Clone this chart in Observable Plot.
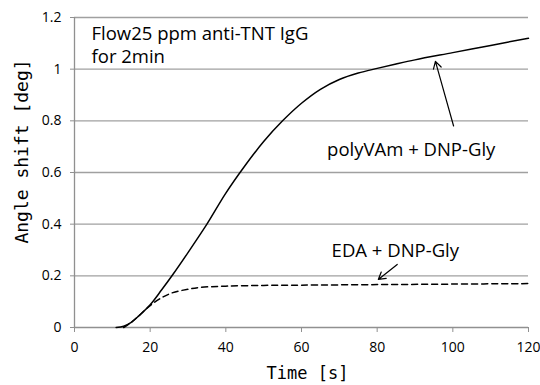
<!DOCTYPE html>
<html>
<head>
<meta charset="utf-8">
<script src="https://cdn.jsdelivr.net/npm/d3@7"></script>
<script src="https://cdn.jsdelivr.net/npm/@observablehq/plot@0.6"></script>
<style>
  html, body { margin: 0; padding: 0; background: #fff; }
  #chart svg { display: block; }
</style>
</head>
<body>
<div id="chart"></div>
<script>
// Data
const timeSolid = [11, 13, 15, 17, 20, 23, 26, 30, 35, 40, 45, 50, 55, 60, 65, 70, 75, 80, 85, 90, 100, 110, 120];
const polyVAm   = [0, 0.005, 0.02, 0.045, 0.088, 0.145, 0.205, 0.29, 0.4, 0.52, 0.625, 0.72, 0.8, 0.868, 0.922, 0.96, 0.985, 1.003, 1.02, 1.036, 1.064, 1.092, 1.12];
const timeDashed = [13, 15, 17, 20, 23, 26, 30, 33, 40, 50, 60, 80, 100, 120];
const eda        = [0, 0.02, 0.045, 0.085, 0.115, 0.135, 0.148, 0.155, 0.16, 0.163, 0.164, 0.166, 0.168, 0.17];
const xTicks = [0, 20, 40, 60, 80, 100, 120];
const yTicks = [0, 0.2, 0.4, 0.6, 0.8, 1.0, 1.2];

// Annotations (data units)
const noteLines = ["Flow25 ppm anti-TNT IgG", "for 2min"];
const noteX = [4.5, 4.5];
const noteY = [1.137, 1.047];
const labelText = ["polyVAm + DNP-Gly", "EDA + DNP-Gly"];
const labelX = [89, 84.8];
const labelY = [0.685, 0.295];
const arrowX1 = [100.2, 85.3];
const arrowY1 = [0.78, 0.244];
const arrowX2 = [95.4, 80.3];
const arrowY2 = [1.03, 0.186];

const solid = timeSolid.map((t, i) => ({t, v: polyVAm[i]}));
const dashed = timeDashed.map((t, i) => ({t, v: eda[i]}));
const notes = noteLines.map((s, i) => ({s, x: noteX[i], y: noteY[i]}));
const labels = labelText.map((s, i) => ({s, x: labelX[i], y: labelY[i]}));
const arrows = arrowX1.map((x1, i) => ({x1, y1: arrowY1[i], x2: arrowX2[i], y2: arrowY2[i]}));

const chart = Plot.plot({
  width: 540,
  height: 385,
  marginLeft: 74,
  marginRight: 12,
  marginTop: 17,
  marginBottom: 58,
  style: {fontFamily: "'Open Sans', Lato, sans-serif", fontSize: "14px", color: "#000", background: "#fff"},
  x: {domain: [0, 120], ticks: xTicks},
  y: {domain: [0, 1.2], ticks: yTicks},
  marks: [
    Plot.ruleY(yTicks.slice(1), {stroke: "#a0a0a0", strokeWidth: 1.3}),
    Plot.axisY({ticks: yTicks, tickSize: 4, tickPadding: 9, stroke: "#909090",
      tickFormat: d => String(+d.toFixed(1)), fontSize: 14, label: null}),
    Plot.axisX({ticks: xTicks, tickSize: 5, tickPadding: 10, stroke: "#909090",
      fontSize: 14, label: null}),
    Plot.ruleX([0], {stroke: "#909090", strokeWidth: 1.3}),
    Plot.ruleY([0], {stroke: "#909090", strokeWidth: 1.3}),
    Plot.line(dashed, {x: "t", y: "v", stroke: "#000", strokeWidth: 1.5, strokeDasharray: "6,4", curve: "catmull-rom"}),
    Plot.line(solid, {x: "t", y: "v", stroke: "#000", strokeWidth: 1.5, curve: "catmull-rom"}),
    Plot.arrow(arrows, {x1: "x1", y1: "y1", x2: "x2", y2: "y2", stroke: "#000", strokeWidth: 1.2, headLength: 10, bend: 0}),
    Plot.text(notes, {x: "x", y: "y", text: "s", textAnchor: "start", fontSize: 18.5, fill: "#000"}),
    Plot.text(labels, {x: "x", y: "y", text: "s", textAnchor: "middle", fontSize: 18.5, fill: "#000"}),
    Plot.text(["Angle shift [deg]"], {frameAnchor: "left", textAnchor: "middle", dx: -52, dy: -21, rotate: -90, fontSize: 18, fontFamily: "'DejaVu Sans Mono', monospace", fill: "#000"}),
    Plot.text(["Time [s]"], {frameAnchor: "bottom", dx: 6, dy: 51, fontSize: 17, fontFamily: "'DejaVu Sans Mono', monospace", fill: "#000"})
  ]
});
document.getElementById("chart").appendChild(chart);
</script>
</body>
</html>
